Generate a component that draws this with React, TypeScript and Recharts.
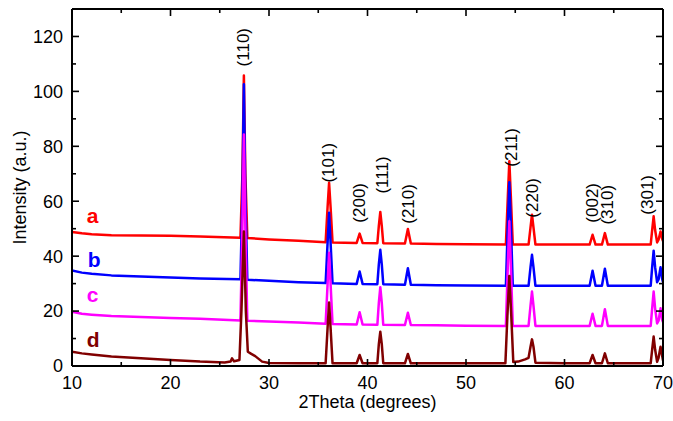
import React from 'react';
import { ComposedChart, Line, XAxis, YAxis, Scatter } from 'recharts';

const FONT = '"Liberation Sans", Arial, Helvetica, sans-serif';

const X_MAJOR = [10, 20, 30, 40, 50, 60, 70];
const X_MINOR = [15, 25, 35, 45, 55, 65];
const Y_MAJOR = [0, 20, 40, 60, 80, 100, 120];
const Y_MINOR = [10, 30, 50, 70, 90, 110];

const X_DOMAIN: [number, number] = [10, 70];
const Y_DOMAIN: [number, number] = [0, 130];

const COLORS = ['#ff0000', '#0000ff', '#ff00ff', '#800000'];
const NAMES = ['a', 'b', 'c', 'd'];
const NAME_X = [11.5, 11.6, 11.5, 11.5];
const NAME_Y = [52.2, 36.1, 23.4, 6.9];

const SERIES_A: [number, number][] = [
  [10, 48.8], [11, 48.3], [12, 48.0], [14, 47.6], [17, 47.5], [20, 47.4], [23, 47.2], [27.1, 46.7],
  [27.3, 70], [27.45, 105.8], [27.6, 70], [27.8, 46.6], [30, 46.1], [33, 45.6], [35.75, 45.1],
  [35.95, 58], [36.1, 66.7], [36.25, 58], [36.45, 45.0], [38.9, 44.8], [39.2, 48.2], [39.5, 44.8],
  [41.0, 44.7], [41.15, 51], [41.3, 56.1], [41.45, 51], [41.6, 44.7], [43.8, 44.6], [44.1, 49.9],
  [44.4, 44.6], [47, 44.4], [50, 44.3], [54.05, 44.2], [54.25, 62], [54.4, 74.6], [54.55, 62],
  [54.75, 44.2], [56.35, 44.2], [56.55, 50.5], [56.7, 55.1], [56.85, 50.5], [57.05, 44.2], [60, 44.2],
  [62.55, 44.2], [62.85, 47.8], [63.15, 44.2], [63.8, 44.2], [64.1, 48.4], [64.4, 44.2], [68.75, 44.2],
  [68.9, 49.5], [69.05, 54.5], [69.2, 49.5], [69.4, 45], [69.55, 46], [69.75, 49], [69.9, 46.5], [70, 45.5],
];

const SERIES_B: [number, number][] = [
  [10, 34.8], [11, 34.0], [12, 33.6], [14, 33.0], [17, 32.6], [20, 32.2], [23, 31.9], [27.1, 31.6],
  [27.3, 62], [27.45, 102.6], [27.6, 62], [27.8, 31.4], [30, 31.0], [33, 30.5], [35.75, 30.2],
  [35.95, 45], [36.1, 55.8], [36.25, 45], [36.45, 30.1], [38.9, 29.9], [39.2, 34.4], [39.5, 29.9],
  [41.0, 29.8], [41.15, 37], [41.3, 42.3], [41.45, 37], [41.6, 29.8], [43.8, 29.6], [44.1, 35.6],
  [44.4, 29.6], [47, 29.4], [50, 29.3], [54.05, 29.2], [54.25, 52], [54.4, 66.9], [54.55, 52],
  [54.75, 29.2], [56.35, 29.2], [56.55, 36], [56.7, 40.5], [56.85, 36], [57.05, 29.2], [60, 29.2],
  [62.55, 29.2], [62.85, 34.7], [63.15, 29.2], [63.8, 29.2], [64.1, 35.4], [64.4, 29.2], [68.75, 29.2],
  [68.9, 36], [69.05, 42], [69.2, 36], [69.4, 30.5], [69.55, 31.5], [69.75, 36], [69.9, 32], [70, 30.5],
];

const SERIES_C: [number, number][] = [
  [10, 19.8], [11, 19.0], [12, 18.7], [14, 18.2], [17, 17.8], [20, 17.5], [23, 17.2], [27.1, 16.6],
  [27.3, 50], [27.45, 84.3], [27.6, 50], [27.8, 16.5], [30, 16.2], [33, 15.8], [35.75, 15.4],
  [35.95, 30], [36.1, 41.2], [36.25, 30], [36.45, 15.3], [38.9, 15.1], [39.2, 19.6], [39.5, 15.1],
  [41.0, 15.0], [41.15, 23], [41.3, 28.7], [41.45, 23], [41.6, 15.0], [43.8, 14.9], [44.1, 19.4],
  [44.4, 14.9], [47, 14.8], [50, 14.7], [54.05, 14.6], [54.25, 37], [54.4, 52.7], [54.55, 37],
  [54.75, 14.6], [56.35, 14.6], [56.55, 22], [56.7, 27.1], [56.85, 22], [57.05, 14.6], [60, 14.6],
  [62.55, 14.6], [62.85, 19], [63.15, 14.6], [63.8, 14.6], [64.1, 20.7], [64.4, 14.6], [68.75, 14.6],
  [68.9, 21], [69.05, 27.1], [69.2, 21], [69.4, 15.5], [69.55, 16.5], [69.75, 21], [69.9, 17], [70, 16],
];

const SERIES_D: [number, number][] = [
  [10, 5.2], [11, 4.6], [12, 4.2], [14, 3.5], [17, 2.8], [20, 2.2], [23, 1.6], [25.5, 1.3],
  [26.1, 1.6], [26.25, 2.8], [26.45, 1.7], [27.0, 2.2], [27.2, 20], [27.45, 49], [27.65, 20],
  [27.85, 5.2], [28.2, 4.4], [28.6, 3.6], [29.3, 1.6], [30, 1.1], [33, 1.0], [35.75, 1.0],
  [35.95, 14], [36.1, 23.1], [36.25, 14], [36.45, 1.0], [38.9, 1.0], [39.2, 4.0], [39.5, 1.0],
  [41.0, 1.0], [41.15, 8], [41.3, 12.5], [41.45, 8], [41.6, 1.0], [43.8, 1.0], [44.1, 4.4],
  [44.4, 1.0], [47, 1.0], [50, 1.0], [54.0, 1.0], [54.2, 18], [54.4, 32.8], [54.6, 18], [54.8, 1.5],
  [55.3, 1.6], [56.0, 2.4], [56.35, 3], [56.55, 7], [56.7, 9.7], [56.85, 7], [57.05, 1.2], [60, 1.0],
  [62.55, 1.0], [62.85, 4.0], [63.15, 1.0], [63.8, 1.0], [64.1, 4.6], [64.4, 1.0], [68.75, 1.0],
  [68.9, 6], [69.05, 10.7], [69.2, 6], [69.4, 1.5], [69.55, 3], [69.75, 7], [69.9, 4], [70, 2],
];

const PEAK_TEXT = ['(110)', '(101)', '(200)', '(111)', '(210)', '(211)', '(220)', '(002)', '(310)', '(301)'];
const PEAK_LABEL_X = [27.45, 36.0, 39.15, 41.55, 44.2, 54.65, 56.8, 62.8, 64.4, 68.4];
const PEAK_LABEL_Y = [109.1, 66.8, 52.2, 62.8, 51.8, 72.6, 54.0, 52.2, 51.5, 55.1];

const toPts = (arr: [number, number][]) => arr.map(([t, v]) => ({ t, v }));
const SERIES = [SERIES_A, SERIES_B, SERIES_C, SERIES_D].map(toPts);

const peakLabels = PEAK_TEXT.map((text, i) => ({ t: PEAK_LABEL_X[i], v: PEAK_LABEL_Y[i], text }));
const nameLabels = NAMES.map((text, i) => ({ t: NAME_X[i], v: NAME_Y[i], text, color: COLORS[i] }));

// layout (pixels)
const W = 673;
const H = 421;
const MARGIN = { top: 9, right: 10, bottom: 10, left: 10 };
const Y_AXIS_W = 62;
const X_AXIS_H = 45;
const PLOT = {
  left: MARGIN.left + Y_AXIS_W,
  right: W - MARGIN.right,
  top: MARGIN.top,
  bottom: H - MARGIN.bottom - X_AXIS_H,
};
const MAJOR_PX = 7;
const MINOR_PX = 4;
const TICK_STROKE = { stroke: '#000', strokeWidth: 1.6 };

const X_ALL = [...X_MAJOR, ...X_MINOR].sort((a, b) => a - b);
const Y_ALL = [...Y_MAJOR, ...Y_MINOR].sort((a, b) => a - b);

const XTick = (props: any) => {
  const { x, y, payload } = props;
  const v = payload.value;
  const major = X_MAJOR.includes(v);
  const len = major ? MAJOR_PX : MINOR_PX;
  return (
    <g>
      <line x1={x} y1={PLOT.bottom} x2={x} y2={PLOT.bottom - len} {...TICK_STROKE} />
      <line x1={x} y1={PLOT.top} x2={x} y2={PLOT.top + len} {...TICK_STROKE} />
      {major && (
        <text x={x} y={y} dy="0.71em" textAnchor="middle" fontSize={18} fontFamily={FONT} fill="#000">
          {v}
        </text>
      )}
    </g>
  );
};

const YTick = (props: any) => {
  const { x, y, payload } = props;
  const v = payload.value;
  const major = Y_MAJOR.includes(v);
  const len = major ? MAJOR_PX : MINOR_PX;
  return (
    <g>
      <line x1={PLOT.left} y1={y} x2={PLOT.left + len} y2={y} {...TICK_STROKE} />
      <line x1={PLOT.right} y1={y} x2={PLOT.right - len} y2={y} {...TICK_STROKE} />
      {major && (
        <text x={x} y={y} dy="0.355em" textAnchor="end" fontSize={18} fontFamily={FONT} fill="#000">
          {v}
        </text>
      )}
    </g>
  );
};

const PeakLabel = (p: any) => (
  <text
    x={p.cx}
    y={p.cy}
    transform={`rotate(-90 ${p.cx} ${p.cy})`}
    textAnchor="start"
    dominantBaseline="central"
    fontSize={17}
    fontFamily={FONT}
    fill="#000"
  >
    {p.payload.text}
  </text>
);

const NameLabel = (p: any) => (
  <text x={p.cx} y={p.cy} textAnchor="start" fontSize={21} fontWeight="bold" fontFamily={FONT} fill={p.payload.color}>
    {p.payload.text}
  </text>
);

const XTitle = (props: any) => {
  const vb = props.viewBox ?? { x: PLOT.left, y: PLOT.bottom, width: PLOT.right - PLOT.left, height: X_AXIS_H };
  return (
    <text x={vb.x + vb.width / 2} y={vb.y + 42} textAnchor="middle" fontSize={18} fontFamily={FONT} fill="#000">
      2Theta (degrees)
    </text>
  );
};

const YTitle = (props: any) => {
  const vb = props.viewBox ?? { x: MARGIN.left, y: PLOT.top, width: Y_AXIS_W, height: PLOT.bottom - PLOT.top };
  const cx = vb.x + 10;
  const cy = vb.y + vb.height / 2;
  return (
    <text
      x={cx}
      y={cy}
      transform={`rotate(-90 ${cx} ${cy})`}
      textAnchor="middle"
      dominantBaseline="central"
      fontSize={18}
      fontFamily={FONT}
      fill="#000"
    >
      Intensity (a.u.)
    </text>
  );
};

const EmptyTick = () => <g />;

const frame = { stroke: '#000', strokeWidth: 2 };

export default function App() {
  return (
    <div style={{ position: 'absolute', left: 0, top: 0, width: W, height: H, background: '#fff' }}>
      <ComposedChart width={W} height={H} margin={MARGIN}>
        <XAxis
          xAxisId="x"
          dataKey="t"
          type="number"
          domain={X_DOMAIN}
          allowDataOverflow
          ticks={X_ALL}
          interval={0}
          orientation="bottom"
          height={X_AXIS_H}
          tickLine={false}
          axisLine={false}
          tickSize={0}
          tickMargin={10}
          tick={XTick}
          label={XTitle}
        />
        <YAxis
          yAxisId="y"
          type="number"
          domain={Y_DOMAIN}
          allowDataOverflow
          ticks={Y_ALL}
          interval={0}
          orientation="left"
          width={Y_AXIS_W}
          tickLine={false}
          axisLine={false}
          tickSize={0}
          tickMargin={9}
          tick={YTick}
          label={YTitle}
        />
        <XAxis xAxisId="xb" type="number" domain={X_DOMAIN} allowDataOverflow ticks={X_MAJOR}
          orientation="bottom" mirror height={1} tick={EmptyTick} axisLine={frame} tickLine={false} />
        <XAxis xAxisId="xt" type="number" domain={X_DOMAIN} allowDataOverflow ticks={X_MAJOR}
          orientation="top" mirror height={1} tick={EmptyTick} axisLine={frame} tickLine={false} />
        <YAxis yAxisId="yl" type="number" domain={Y_DOMAIN} allowDataOverflow ticks={Y_MAJOR}
          orientation="left" mirror width={1} tick={EmptyTick} axisLine={frame} tickLine={false} />
        <YAxis yAxisId="yr" type="number" domain={Y_DOMAIN} allowDataOverflow ticks={Y_MAJOR}
          orientation="right" mirror width={1} tick={EmptyTick} axisLine={frame} tickLine={false} />

        {SERIES.map((data, i) => (
          <Line
            key={NAMES[i]}
            xAxisId="x"
            yAxisId="y"
            data={data}
            dataKey="v"
            type="linear"
            stroke={COLORS[i]}
            strokeWidth={2.5}
            strokeLinejoin="round"
            dot={false}
            activeDot={false}
            isAnimationActive={false}
          />
        ))}

        <Scatter xAxisId="x" yAxisId="y" data={peakLabels} dataKey="v" shape={PeakLabel} isAnimationActive={false} />
        <Scatter xAxisId="x" yAxisId="y" data={nameLabels} dataKey="v" shape={NameLabel} isAnimationActive={false} />
      </ComposedChart>
    </div>
  );
}
